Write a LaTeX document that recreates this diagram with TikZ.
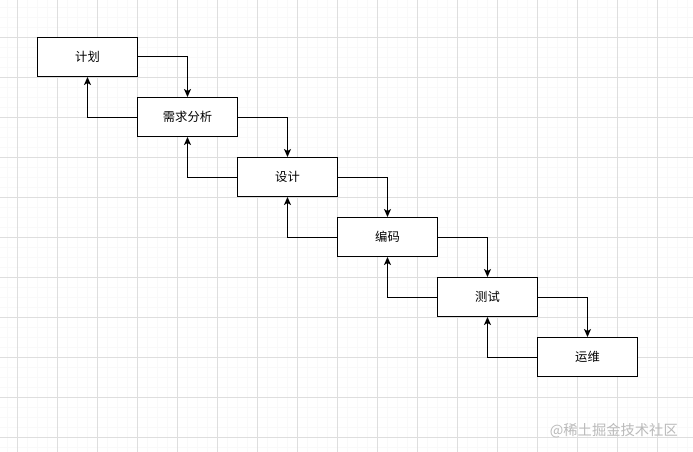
\documentclass[tikz,border=0pt]{standalone}
\usepackage{fontspec}
\newfontfamily\cjk{Noto Sans CJK SC}
\usetikzlibrary{arrows.meta}
\begin{document}
\begin{tikzpicture}[x=1pt,y=-1pt,
  stagebox/.style={draw=black,line width=1pt,fill=white,minimum width=100pt,minimum height=39pt,inner sep=0pt,font=\cjk\fontsize{12.3}{14}\selectfont,anchor=north west},
  link/.style={draw=black,line width=1pt,-{Stealth[length=8pt,width=7pt,inset=2pt]}}]
\useasboundingbox (0,0) rectangle (693,452);
\fill[white] (0,0) rectangle (693,452);
\foreach \x in {7,17,...,693} \draw[color=black!2.5,line width=0.6pt] (\x,0) -- (\x,452);
\foreach \y in {7,17,...,452} \draw[color=black!2.5,line width=0.6pt] (0,\y) -- (693,\y);
\foreach \x in {17,57,...,693} \draw[color=black!13,line width=0.8pt] (\x,0) -- (\x,452);
\foreach \y in {37,77,...,452} \draw[color=black!13,line width=0.8pt] (0,\y) -- (693,\y);
\node[stagebox] (a) at (37,37) {计划};
\node[stagebox] (b) at (137,97) {需求分析};
\node[stagebox] (c) at (237,157) {设计};
\node[stagebox] (d) at (337,217) {编码};
\node[stagebox] (e) at (437,277) {测试};
\node[stagebox] (f) at (537,337) {运维};
\foreach \u/\v in {a/b,b/c,c/d,d/e,e/f}{
  \draw[link] (\u.east) -| (\v.north);
  \draw[link] (\v.west) -| (\u.south);
}
\node[font=\cjk\fontsize{14.3}{16}\selectfont,text=black!27,anchor=east,inner sep=0pt] (wm) at (678,431) {@稀土掘金技术社区};
\end{tikzpicture}
\end{document}
